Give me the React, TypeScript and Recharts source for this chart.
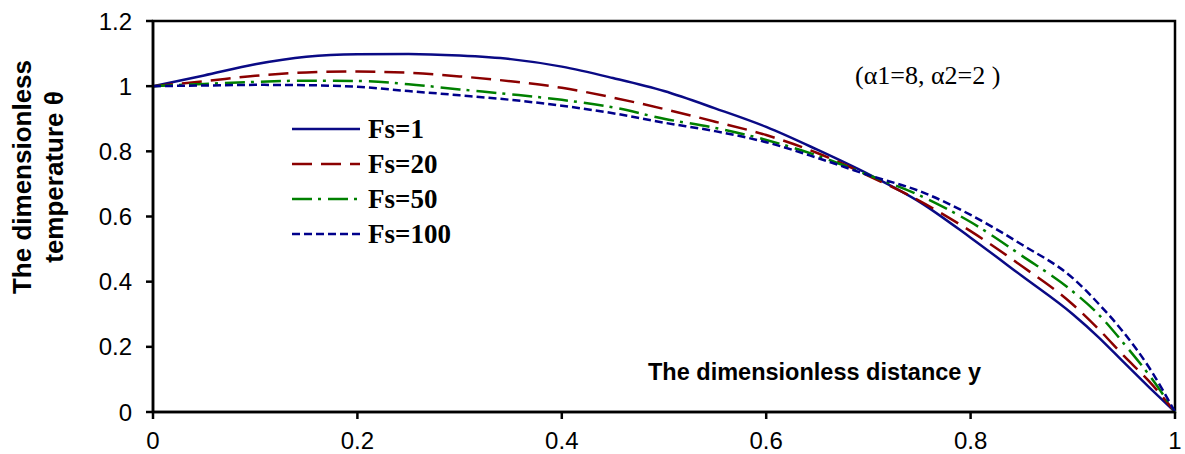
import { LineChart, Line, XAxis, YAxis, ReferenceArea } from 'recharts'

const distance = [0, 0.05, 0.1, 0.15, 0.2, 0.25, 0.3, 0.35, 0.4, 0.45, 0.5, 0.55, 0.6, 0.65, 0.7, 0.75, 0.8, 0.85, 0.9, 0.925, 0.95, 0.975, 1]
const fs1 = [1.0, 1.033, 1.067, 1.09, 1.098, 1.099, 1.094, 1.083, 1.06, 1.025, 0.985, 0.932, 0.875, 0.805, 0.73, 0.645, 0.535, 0.418, 0.3, 0.23, 0.152, 0.075, 0]
const fs20 = [1.0, 1.015, 1.032, 1.042, 1.045, 1.041, 1.03, 1.015, 0.995, 0.965, 0.93, 0.891, 0.85, 0.795, 0.725, 0.648, 0.555, 0.448, 0.33, 0.255, 0.172, 0.093, 0]
const fs50 = [1.0, 1.007, 1.013, 1.017, 1.016, 1.006, 0.99, 0.975, 0.958, 0.935, 0.9, 0.872, 0.835, 0.787, 0.727, 0.665, 0.583, 0.48, 0.37, 0.3, 0.21, 0.112, 0]
const fs100 = [1.0, 1.002, 1.004, 1.003, 0.998, 0.985, 0.972, 0.958, 0.94, 0.917, 0.888, 0.862, 0.828, 0.78, 0.727, 0.678, 0.605, 0.514, 0.411, 0.333, 0.243, 0.135, 0]

const xTicks = [0, 0.2, 0.4, 0.6, 0.8, 1]
const yTicks = [0, 0.2, 0.4, 0.6, 0.8, 1, 1.2]

const series = [
  { key: 'fs1', name: 'Fs=1', color: '#0a0a85', dash: undefined as string | undefined },
  { key: 'fs20', name: 'Fs=20', color: '#8b0000', dash: '20 9' },
  { key: 'fs50', name: 'Fs=50', color: '#008000', dash: '20 6 3 7' },
  { key: 'fs100', name: 'Fs=100', color: '#00008b', dash: '8 4' },
]

const data = distance.map((y, i) => ({
  y,
  fs1: fs1[i],
  fs20: fs20[i],
  fs50: fs50[i],
  fs100: fs100[i],
}))

const sans = '"Liberation Sans", Arial, sans-serif'
const serif = '"Liberation Serif", "Times New Roman", serif'

function XTick(props: any) {
  const { x, y, payload } = props
  return (
    <text x={x} y={y} dy="0.75em" textAnchor="middle" fontSize={24} fontFamily={sans} fill="#000">
      {payload.value}
    </text>
  )
}

function YTick(props: any) {
  const { x, y, payload } = props
  return (
    <text x={x} y={y} dy="0.36em" textAnchor="end" fontSize={24} fontFamily={sans} fill="#000">
      {payload.value}
    </text>
  )
}

// legend sits inside the plot, drawn on top of the chart
function LegendBox() {
  return (
    <svg width={220} height={140} style={{ position: 'absolute', left: 290, top: 115 }}>
      {series.map((s, i) => (
        <g key={s.key}>
          <line x1={2} x2={70} y1={14 + i * 35} y2={14 + i * 35} stroke={s.color} strokeWidth={2.5} strokeDasharray={s.dash} />
          <text x={78} y={14 + i * 35} dy="0.35em" fontSize={27} fontWeight="bold" fontFamily={serif} fill="#000">
            {s.name}
          </text>
        </g>
      ))}
    </svg>
  )
}

export default function App() {
  return (
    <div style={{ position: 'absolute', left: 0, top: 0, width: 1185, height: 454, background: '#fff' }}>
      <LineChart width={1185} height={454} data={data} margin={{ top: 21, right: 10, bottom: 0, left: 0 }}>
        <ReferenceArea x1={0} x2={1} y1={0} y2={1.2} fill="none" stroke="#000" strokeWidth={2.5} />
        <XAxis
          dataKey="y"
          type="number"
          domain={[0, 1]}
          ticks={xTicks}
          height={42}
          tick={<XTick />}
          tickSize={7}
          tickMargin={12}
          stroke="#000"
          strokeWidth={2.5}
        />
        <YAxis
          type="number"
          domain={[0, 1.2]}
          ticks={yTicks}
          width={153}
          tick={<YTick />}
          tickSize={7}
          tickMargin={14}
          stroke="#000"
          strokeWidth={2.5}
        />
        {series.map((s) => (
          <Line
            key={s.key}
            type="monotone"
            dataKey={s.key}
            name={s.name}
            stroke={s.color}
            strokeWidth={2.5}
            strokeDasharray={s.dash}
            dot={false}
            isAnimationActive={false}
          />
        ))}
      </LineChart>
      <LegendBox />
      <svg width={1185} height={454} style={{ position: 'absolute', left: 0, top: 0, pointerEvents: 'none' }}>
        <g transform="rotate(-90, 38, 177)" fontFamily={sans} fontWeight="bold" fontSize={26} fill="#000" textAnchor="middle">
          <text x={38} y={177 - 16 + 9}>The dimensionless</text>
          <text x={38} y={177 + 16 + 9}>temperature θ</text>
        </g>
        <text x={648} y={380} fontFamily={sans} fontWeight="bold" fontSize={23.5} fill="#000">
          The dimensionless distance y
        </text>
        <text x={855} y={84} fontFamily={serif} fontSize={26} fill="#000">
          (α1=8, α2=2 )
        </text>
      </svg>
    </div>
  )
}
